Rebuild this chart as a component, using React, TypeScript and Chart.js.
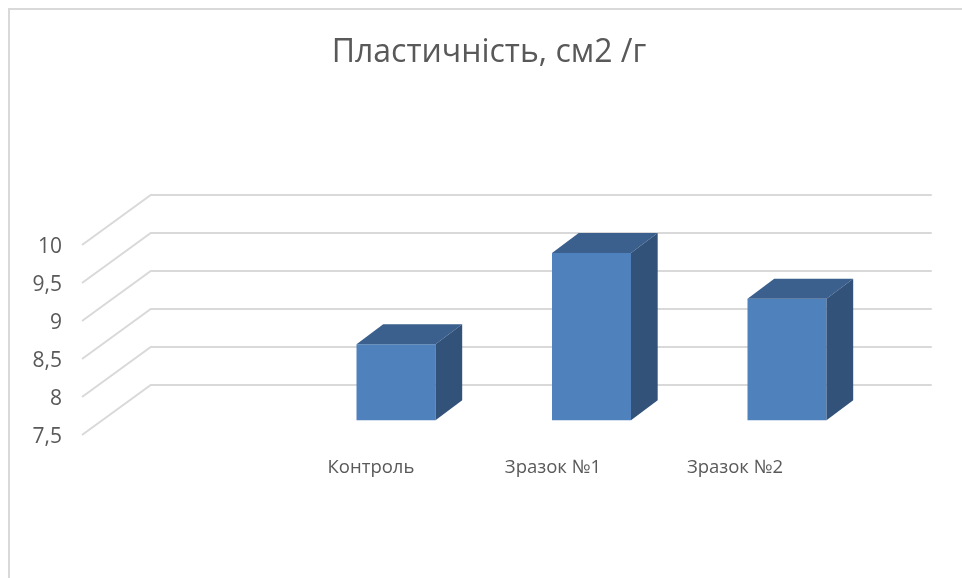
import React, { useEffect, useRef } from "react";
import { Chart, registerables } from "chart.js";

Chart.register(...registerables);

const TITLE = "Пластичність, см2 /г";
const categories = ["", "Контроль", "Зразок №1", "Зразок №2"];
const values: (number | null)[] = [null, 8.5, 9.7, 9.1];
const yMin = 7.5;
const yMax = 10;
const yStep = 0.5;

const FONT = "'Open Sans', 'Noto Sans', sans-serif";
const TEXT = "#595959";
const GRID = "#d9d9d9";
const FRONT = "#4F81BD";
const TOP = "#3B608D";
const SIDE = "#32527A";

// oblique projection offsets
const BACK_DX = 48;
const BACK_DY = -35.3;
const FRONT_DX = -20.75;
const FRONT_DY = 14.7;
const BAR_DX = 26.7;
const BAR_DY = -20;

export default function App() {
  const ref = useRef<HTMLCanvasElement>(null);

  useEffect(() => {
    const canvas = ref.current;
    if (!canvas) return;

    const plugin = {
      id: "excel3d",
      beforeDraw(chart: any) {
        const ctx = chart.ctx;
        ctx.save();
        ctx.fillStyle = "#ffffff";
        ctx.fillRect(0, 0, chart.width, chart.height);
        ctx.strokeStyle = GRID;
        ctx.lineWidth = 2;
        ctx.beginPath();
        ctx.moveTo(9, chart.height + 5);
        ctx.lineTo(9, 9);
        ctx.lineTo(chart.width + 5, 9);
        ctx.stroke();
        ctx.fillStyle = TEXT;
        ctx.font = `32px ${FONT}`;
        ctx.textAlign = "center";
        ctx.textBaseline = "middle";
        ctx.fillText(TITLE, 489, 53);
        ctx.restore();
      },
      beforeDatasetsDraw(chart: any) {
        const ctx = chart.ctx;
        const area = chart.chartArea;
        const y = chart.scales.y;
        const x = chart.scales.x;
        ctx.save();
        ctx.strokeStyle = GRID;
        ctx.lineWidth = 2;
        for (const t of y.ticks) {
          const py = y.getPixelForValue(t.value);
          ctx.beginPath();
          ctx.moveTo(area.left + FRONT_DX, py + FRONT_DY);
          ctx.lineTo(area.left + BACK_DX, py + BACK_DY);
          ctx.lineTo(area.right + BACK_DX - 1, py + BACK_DY);
          ctx.stroke();
        }
        ctx.fillStyle = TEXT;
        ctx.font = `21px ${FONT}`;
        ctx.textAlign = "right";
        ctx.textBaseline = "middle";
        for (const t of y.ticks) {
          const py = y.getPixelForValue(t.value);
          ctx.fillText(String(t.value).replace(".", ","), 62, py + FRONT_DY + 2);
        }
        ctx.font = `18.5px ${FONT}`;
        ctx.textAlign = "center";
        categories.forEach((c, i) => {
          if (!c) return;
          const px = x.getPixelForValue(i);
          ctx.fillText(c, 0.931 * px + 2.3, 468);
        });
        ctx.restore();
      },
      afterDatasetsDraw(chart: any) {
        const ctx = chart.ctx;
        const y = chart.scales.y;
        const meta = chart.getDatasetMeta(0);
        const B = y.getPixelForValue(yMin);
        ctx.save();
        meta.data.forEach((bar: any, i: number) => {
          if (values[i] == null) return;
          const L = bar.x - bar.width / 2;
          const R = bar.x + bar.width / 2;
          const T = bar.y;
          ctx.fillStyle = TOP;
          ctx.beginPath();
          ctx.moveTo(L, T);
          ctx.lineTo(R, T);
          ctx.lineTo(R + BAR_DX, T + BAR_DY);
          ctx.lineTo(L + BAR_DX, T + BAR_DY);
          ctx.closePath();
          ctx.fill();
          ctx.fillStyle = SIDE;
          ctx.beginPath();
          ctx.moveTo(R, T);
          ctx.lineTo(R + BAR_DX, T + BAR_DY);
          ctx.lineTo(R + BAR_DX, B + BAR_DY);
          ctx.lineTo(R, B);
          ctx.closePath();
          ctx.fill();
        });
        ctx.restore();
      },
    };

    const chart = new Chart(canvas, {
      type: "bar",
      data: {
        labels: categories,
        datasets: [
          {
            data: values,
            backgroundColor: FRONT,
            borderWidth: 0,
            barPercentage: 0.404,
            categoryPercentage: 1,
          },
        ],
      },
      options: {
        responsive: false,
        animation: false,
        layout: {
          padding: { left: 102.75, right: 77.25, top: 230.3, bottom: 157.7 },
        },
        plugins: {
          legend: { display: false },
          title: { display: false },
          tooltip: { enabled: false },
        },
        scales: {
          x: { display: false, offset: true },
          y: {
            display: false,
            min: yMin,
            max: yMax,
            ticks: { stepSize: yStep },
          },
        },
      },
      plugins: [plugin],
    });

    return () => chart.destroy();
  }, []);

  return (
    <div style={{ position: "absolute", left: 0, top: 0, width: 962, height: 578, overflow: "hidden" }}>
      <canvas ref={ref} width={962} height={578} style={{ display: "block" }} />
    </div>
  );
}
